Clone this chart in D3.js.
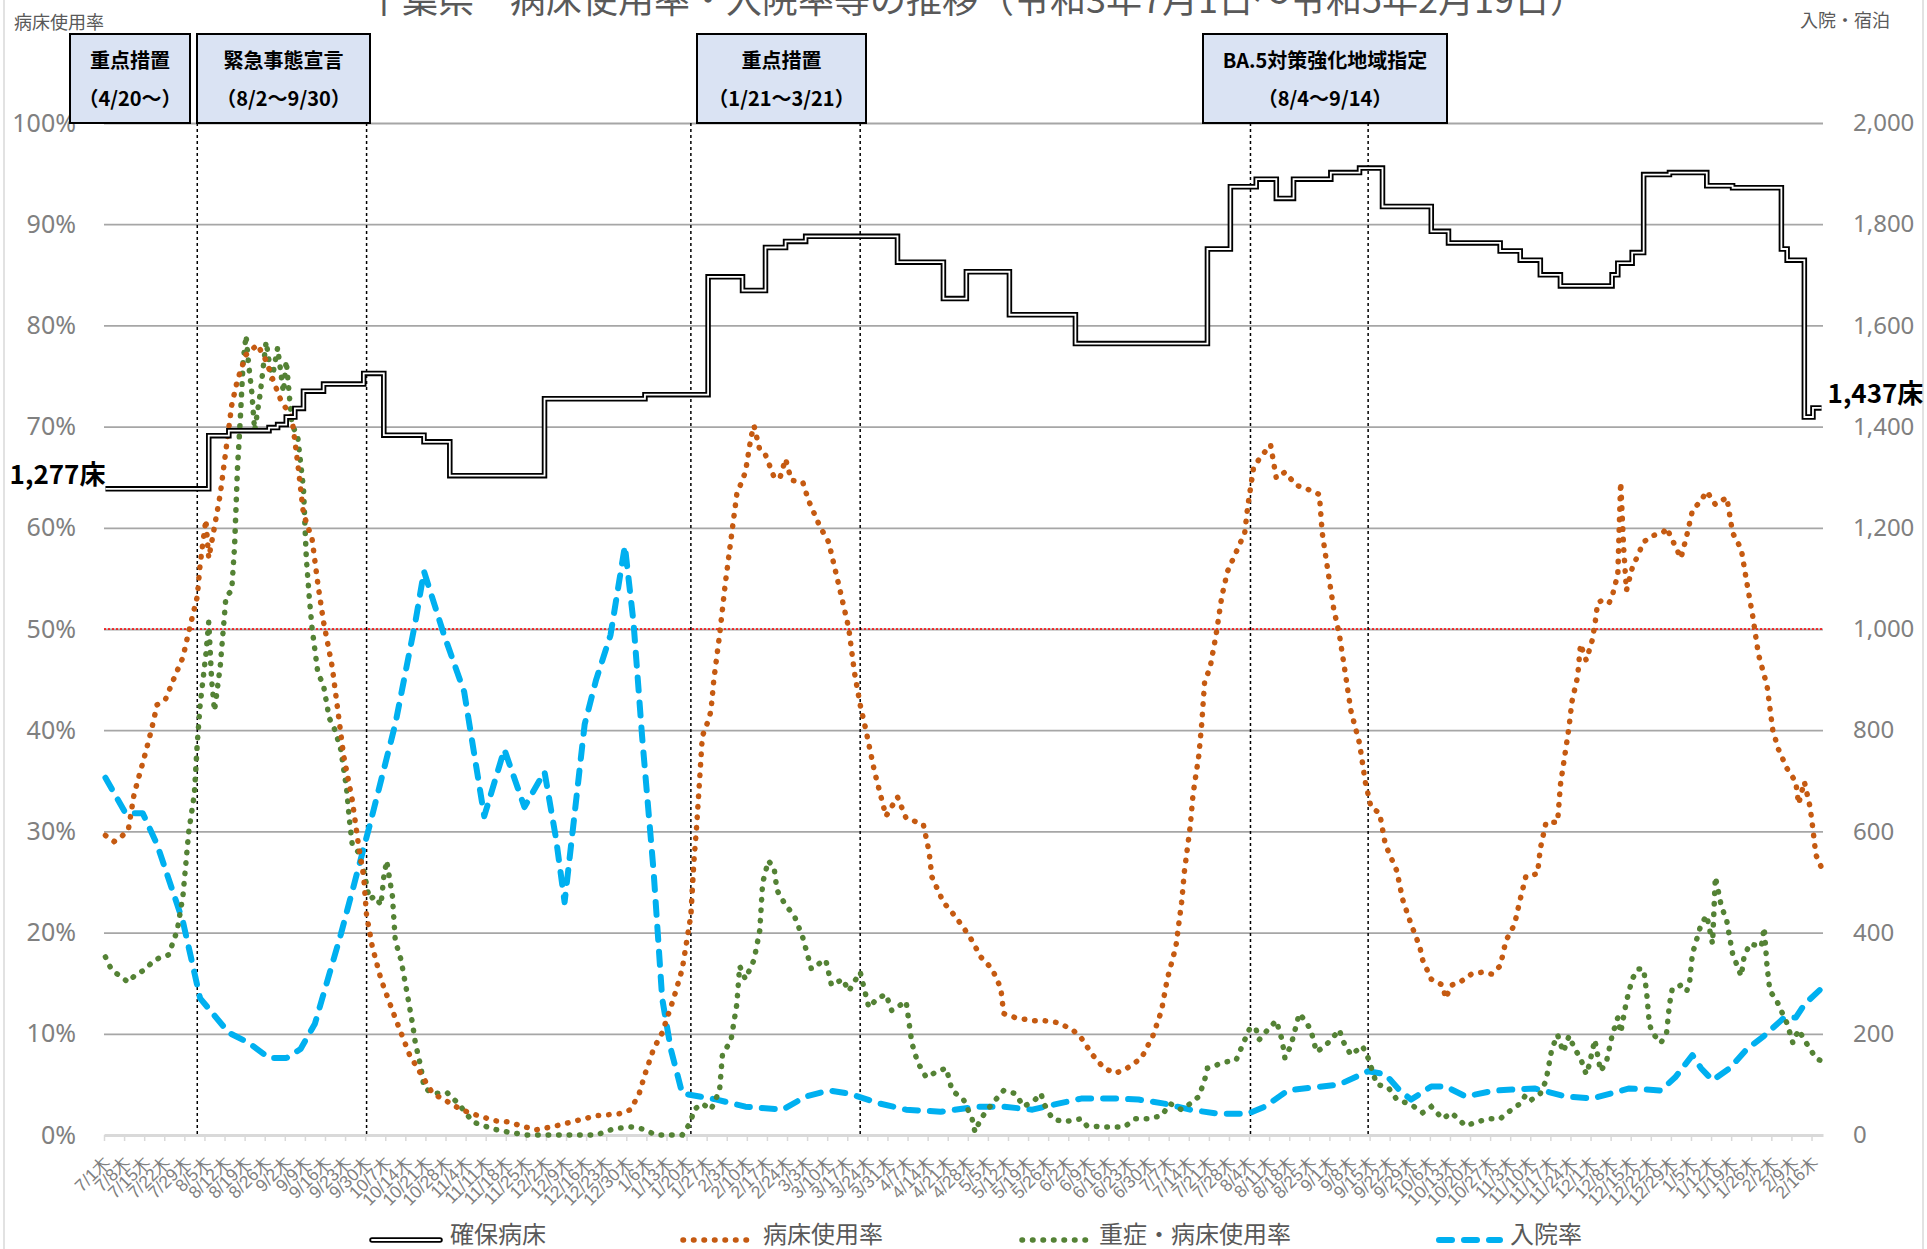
<!DOCTYPE html>
<html>
<head>
<meta charset="utf-8">
<script src="https://cdnjs.cloudflare.com/ajax/libs/d3/7.8.5/d3.min.js"></script>
<style>
body{margin:0;background:#fff;}
svg{display:block;font-family:"Noto Sans CJK JP","Noto Sans",sans-serif;}
</style>
</head>
<body>
<svg id="chart" width="1927" height="1249"></svg>
<script>
// weekly tick labels (Thursdays), 7/1/2021 .. 2/16/2023
var tickLabels = ["7/1","7/8","7/15","7/22","7/29","8/5","8/12","8/19","8/26","9/2","9/9","9/16","9/23","9/30",
  "10/7","10/14","10/21","10/28","11/4","11/11","11/18","11/25","12/2","12/9","12/16","12/23","12/30",
  "1/6","1/13","1/20","1/27","2/3","2/10","2/17","2/24","3/3","3/10","3/17","3/24","3/31","4/7","4/14","4/21","4/28",
  "5/5","5/12","5/19","5/26","6/2","6/9","6/16","6/23","6/30","7/7","7/14","7/21","7/28","8/4","8/11","8/18","8/25",
  "9/1","9/8","9/15","9/22","9/29","10/6","10/13","10/20","10/27","11/3","11/10","11/17","11/24","12/1","12/8","12/15","12/22","12/29",
  "1/5","1/12","1/19","1/26","2/2","2/9","2/16"];
var dayCount = 599;

var seriesNames = ["確保病床","病床使用率","重症・病床使用率","入院率"];

// [day index, beds]  (change points)
var beds = [[0,1277],[36,1382],[43,1392],[57,1398],[60,1404],[63,1419],[66,1436],[69,1470],[76,1484],[90,1505],[97,1383],
  [111,1370],[120,1303],[153,1455],[188,1463],[210,1696],[222,1669],[230,1754],[237,1766],[244,1776],[276,1725],[292,1653],
  [300,1706],[315,1621],[338,1564],[384,1751],[392,1874],[401,1889],[408,1851],[414,1889],[427,1902],[437,1911],[445,1835],
  [462,1786],[468,1763],[486,1747],[493,1729],[500,1700],[507,1678],[525,1700],[527,1723],[532,1744],[536,1898],[545,1902],
  [558,1876],[567,1872],[584,1751],[586,1729],[592,1419],[595,1437],[598,1437]];

// [day index, %]
var occupancy = [[0,29.6],[3,29.0],[5,29.3],[8,30.2],[10,33.7],[14,37.8],[16,40.0],[18,42.5],[21,43.1],[24,45.2],[27,47.2],[29,49.7],
  [32,53.2],[33,56.4],[35,60.8],[36,57],[38,60.1],[40,63.3],[42,67.7],[44,72.1],[46,74.6],[49,77.1],[53,78.1],[56,76.5],[58,74.9],
  [61,72.7],[65,70.8],[67,66.4],[69,61.4],[72,58.9],[74,54.5],[76,50.7],[79,46.3],[81,41.9],[83,37.5],[86,33.1],[88,29.0],[90,25.5],
  [91,21.7],[93,18.6],[96,15.4],[100,12.3],[103,10.1],[106,7.9],[110,6.0],[114,4.1],[118,3.5],[124,2.5],[130,1.9],[136,1.4],[140,1.3],
  [145,0.9],[150,0.5],[157,0.9],[164,1.4],[171,1.9],[179,2.1],[183,2.5],[186,4.1],[188,6.0],[191,8.5],[194,10.1],[198,13.5],[201,16.4],
  [204,21.7],[205,26.8],[206,30.5],[207,34.9],[208,39.4],[210,40.9],[211,41.9],[212,45],[214,49.4],[216,54.5],[218,58.9],[220,63.3],
  [223,65.5],[225,69],[226,70.1],[228,67.7],[230,67.2],[233,65],[235,64.9],[237,66.8],[239,64.7],[243,64.5],[245,62.7],[249,60.1],
  [252,58.6],[256,53.8],[259,50.1],[261,45.7],[263,42.5],[265,40],[268,35.9],[270,33.7],[272,31.5],[276,33.4],[279,31.3],[285,30.7],
  [287,28.0],[288,25.5],[292,23],[295,22],[299,20.5],[302,19.2],[305,17.6],[309,16.4],[312,14.5],[313,12],[317,11.6],[323,11.3],
  [327,11.3],[332,11.1],[337,10.4],[340,9.6],[344,7.9],[348,6.6],[352,6.1],[356,6.6],[361,7.6],[365,9.8],[368,12.3],[370,15.4],
  [373,18.6],[375,23],[376,26.1],[378,30.5],[379,33.7],[381,37.5],[382,40.6],[383,44.7],[385,46.3],[387,49.4],[389,53.2],[391,55.7],
  [394,57.6],[397,59.5],[398,62],[400,65.8],[402,66.8],[406,68.2],[408,64.9],[411,65.5],[415,64.2],[419,63.8],[423,63.3],[424,59.5],
  [426,55.7],[428,52],[430,49.4],[432,45.7],[434,41.9],[437,38.7],[439,34.9],[441,32.4],[444,31.8],[446,28.7],[450,26.1],[452,23.3],
  [455,20.8],[458,18.6],[459,17.3],[462,15.4],[466,14.8],[467,13.5],[469,14.8],[472,15.1],[476,15.9],[480,16.1],[483,15.9],[486,16.7],
  [487,17.9],[488,19.2],[491,20.8],[493,23.3],[495,25.6],[499,25.8],[500,28.3],[501,29.6],[502,30.9],[506,30.9],[507,34.6],[508,36.5],
  [510,40.3],[511,42.8],[513,45.3],[514,48.5],[516,46.9],[518,48.8],[519,50.4],[520,52.6],[522,52.9],[524,52.6],[525,53.2],[527,55.4],
  [528,64.5],[529,58.2],[530,53.8],[532,56],[536,58.6],[539,59.2],[543,59.6],[544,60],[546,58.8],[549,57],[551,59.2],[553,61.7],
  [556,62.7],[558,63.6],[561,62.3],[565,63],[567,59.5],[570,57.9],[572,54.5],[574,51.3],[576,47.5],[579,44.4],[581,40],[583,38.1],
  [586,36.2],[589,34.9],[590,32.7],[592,34.9],[594,32.4],[595,30.2],[596,27.7],[598,26.4]];

var severe = [[0,17.6],[2,16.4],[5,15.7],[8,15.1],[10,15.7],[14,16.4],[17,17.3],[22,17.8],[25,20.2],[27,23.6],[29,29.9],[31,33.7],
  [32,38.7],[33,42.5],[35,47.5],[36,50.7],[37,45],[38,41.9],[40,46.3],[42,53.2],[44,53.8],[45,58.2],[46,65.8],[47,70.8],[48,76.5],
  [49,79],[50,75.9],[51,73.4],[52,69.6],[54,73.4],[56,78.4],[58,74.6],[60,77.8],[62,73.4],[63,76.5],[65,70.2],[67,69],[69,63.9],
  [70,57],[71,53.2],[72,50.1],[74,45.7],[76,44.4],[78,41.2],[80,40],[82,38.1],[84,34.3],[85,31.2],[86,28.7],[88,28],[90,26.1],
  [92,23.3],[94,23.6],[96,22.7],[97,25.5],[98,27.1],[100,23.6],[101,19.2],[103,17.3],[105,14.2],[107,11],[108,9.1],[110,6.6],
  [111,4.7],[114,4.1],[119,4.2],[123,3.1],[128,1.3],[135,0.6],[140,0.3],[147,0],[171,0],[177,0.6],[183,0.8],[187,0.6],[192,0],
  [201,0],[204,1.3],[205,2.5],[208,3.1],[211,2.5],[214,4.4],[215,7.9],[218,9.4],[220,12.9],[221,16.7],[223,15.4],[226,17.3],
  [228,20.2],[229,24.9],[231,27.1],[233,26.4],[234,24.2],[237,22.7],[240,21.7],[243,19.5],[246,16.4],[249,17],[251,17.3],[253,14.8],
  [257,15.4],[259,14.2],[263,16.1],[266,12.6],[269,13.5],[272,13.9],[274,12.3],[279,13.2],[281,9.1],[283,7.2],[286,5.7],[290,6.3],
  [293,6.6],[295,4.4],[299,3.5],[302,1.6],[303,0.3],[305,1.6],[309,3.1],[313,4.4],[317,4.1],[320,2.8],[324,3.5],[326,4.1],[327,3.1],
  [330,1.6],[334,1.3],[340,1.6],[342,0.9],[348,0.8],[355,0.8],[359,1.6],[363,1.6],[368,1.9],[371,3.1],[375,2.5],[378,3.1],[381,3.8],
  [383,5.4],[384,6.6],[390,7.2],[394,7.4],[397,9.4],[399,10.7],[401,10.4],[402,9.4],[405,10.4],[408,11.3],[410,9.4],[411,7.6],
  [413,8.8],[414,9.8],[416,12],[418,11.3],[420,10.4],[422,8.2],[425,8.8],[427,9.4],[430,10.4],[431,9.4],[434,7.9],[438,8.8],
  [440,7.6],[443,5],[447,4.7],[450,3.5],[455,3.0],[459,2.2],[462,2.8],[466,1.6],[469,2.2],[474,0.9],[478,1.3],[482,1.6],[486,1.6],
  [489,2.3],[493,3.1],[495,4],[497,3.5],[500,4.1],[502,5.4],[504,8.5],[506,9.9],[508,8.2],[510,9.8],[512,8.5],[514,7.6],[516,6],
  [517,6.9],[519,9.4],[521,6.3],[523,7.2],[525,9.8],[527,11.6],[528,10.1],[530,13.2],[532,15.4],[534,16.4],[536,16.4],[537,14.2],
  [538,11],[539,10.1],[542,9.1],[544,10.1],[545,12.9],[546,14.5],[549,14.8],[551,14.2],[552,15.1],[553,17.9],[556,20.8],[558,21.7],
  [560,18.9],[561,25.5],[563,22.7],[565,21.1],[567,17.9],[570,15.7],[571,17.6],[573,18.9],[577,18.6],[578,20.5],[579,16.7],[580,14.2],
  [582,13.5],[586,11],[588,9.1],[590,10.4],[592,9.4],[594,8.5],[596,7.6],[598,7.3]];

var hospital = [[0,35.3],[7,31.8],[13,31.8],[18,28.7],[27,21.1],[33,13.5],[43,10.1],[50,9.1],[57,7.6],[63,7.6],[68,8.5],[73,11],
  [82,19.8],[92,30.5],[101,40.6],[108,50.7],[111,55.7],[118,49.4],[125,43.8],[132,31.5],[139,38.1],[146,32.4],[153,35.9],[157,29.3],
  [160,23],[163,30.5],[167,40.6],[171,45],[176,49.4],[181,58.2],[184,50.7],[187,39.4],[191,26.1],[194,13.5],[197,8.5],[201,4.1],
  [213,3.5],[223,2.8],[236,2.5],[244,3.8],[252,4.4],[259,4.1],[270,3.1],[279,2.5],[291,2.3],[304,2.8],[313,2.8],[323,2.5],[332,3.1],
  [340,3.6],[353,3.6],[360,3.5],[369,3.1],[378,2.5],[388,2.1],[398,2.1],[404,2.8],[412,4.4],[421,4.7],[430,5],[440,6.3],[446,6],
  [451,4.4],[455,3.5],[462,4.8],[467,4.8],[474,3.8],[484,4.4],[498,4.6],[509,3.8],[518,3.6],[531,4.6],[542,4.4],[547,5.7],[553,7.9],
  [556,6.6],[560,5.4],[566,6.6],[572,8.5],[578,9.8],[585,11.6],[589,11.6],[592,12.9],[598,14.5]];

// measures: 8/2, 9/30, 1/21, 3/21, 8/4, 9/14
var eventDays = [32, 91, 204, 263, 399, 440];
var notes = [["重点措置","（4/20～）"],["緊急事態宣言","（8/2～9/30）"],["重点措置","（1/21～3/21）"],["BA.5対策強化地域指定","（8/4～9/14）"]];
var noteBoxes = [[70,190],[197,370],[697,866],[1203,1447]];

var leftTicks = [0,10,20,30,40,50,60,70,80,90,100];
var rightTicks = [0,200,400,600,800,1000,1200,1400,1600,1800,2000];

var svg = d3.select("#chart");
var pL = 104, pR = 1823, pT = 123, pB = 1135;

var x = d3.scaleLinear().domain([-0.5, dayCount - 0.5]).range([pL, pR]);
var yL = d3.scaleLinear().domain([0, 100]).range([pB, pT]);
var yR = d3.scaleLinear().domain([0, 2000]).range([pB, pT]);

var dotted = "0.5,10";

// chart border (sides)
svg.append("line").attr("x1",4).attr("x2",4).attr("y1",0).attr("y2",1249).attr("stroke","#d9d9d9").attr("stroke-width",1.5);
svg.append("line").attr("x1",1923).attr("x2",1923).attr("y1",0).attr("y2",1249).attr("stroke","#d9d9d9").attr("stroke-width",1.5);

// title
svg.append("text").attr("x",976).attr("y",13).attr("text-anchor","middle")
  .style("font-size","36px").style("fill","#595959")
  .text("千葉県　病床使用率・入院率等の推移（令和3年7月1日～令和5年2月19日）");

svg.append("text").attr("x",14).attr("y",29).style("font-size","18px").style("fill","#595959").text("病床使用率");
svg.append("text").attr("x",1800).attr("y",27).style("font-size","18px").style("fill","#595959").text("入院・宿泊");

// gridlines
var grid = svg.append("g").attr("transform","translate("+pL+",0)")
  .call(d3.axisLeft(yL).tickValues(leftTicks.slice(1)).tickSize(-(pR-pL)).tickFormat(""));
grid.select(".domain").remove();
grid.selectAll(".tick line").attr("stroke","#a6a6a6").attr("stroke-width",1.8);

// left labels
var ax = svg.append("g").attr("transform","translate("+pL+",0)")
  .call(d3.axisLeft(yL).tickValues(leftTicks).tickSize(0).tickPadding(28).tickFormat(function(d){return d+"%";}));
ax.select(".domain").remove();
ax.selectAll("text").style("font-size","25px").style("fill","#808080").style("font-family","'Noto Sans','Noto Sans CJK JP',sans-serif");

// right labels
var ar = svg.append("g").attr("transform","translate("+pR+",0)")
  .call(d3.axisRight(yR).tickValues(rightTicks).tickSize(0).tickPadding(30).tickFormat(d3.format(",")));
ar.select(".domain").remove();
ar.selectAll("text").style("font-size","24px").style("fill","#808080").style("font-family","'Noto Sans','Noto Sans CJK JP',sans-serif");

// x axis line + ticks at week boundaries
var tickPos = tickLabels.map(function(d,i){return i*7-0.5;});
var axb = svg.append("g").attr("transform","translate(0,"+pB+")")
  .call(d3.axisBottom(x).tickValues(tickPos).tickSize(6).tickFormat("").tickSizeOuter(0));
axb.select(".domain").attr("stroke","#d9d9d9").attr("stroke-width",3);
axb.selectAll(".tick line").attr("stroke","#d9d9d9").attr("stroke-width",1.5);

// x labels
var axl = svg.append("g").attr("transform","translate(0,"+pB+")")
  .call(d3.axisBottom(x).tickValues(tickLabels.map(function(d,i){return i*7;})).tickSize(0)
    .tickFormat(function(d){return tickLabels[d/7]+"木";}));
axl.select(".domain").remove();
axl.selectAll("text").attr("text-anchor","end").attr("dy",null).attr("y",0)
  .attr("transform","translate(6,28) rotate(-45)")
  .style("font-size","17.5px").style("fill","#7f7f7f");

// red 50% line
svg.append("line").attr("x1",pL).attr("x2",pR).attr("y1",yL(50)).attr("y2",yL(50))
  .attr("stroke","#ff0000").attr("stroke-width",1.5).attr("stroke-dasharray","2,2");

// event lines
svg.selectAll(".evt").data(eventDays).enter().append("line").attr("class","evt")
  .attr("x1",function(d){return x(d);}).attr("x2",function(d){return x(d);})
  .attr("y1",pT).attr("y2",pB).attr("stroke","#000").attr("stroke-width",1.5).attr("stroke-dasharray","3,3");

var lineL = d3.line().x(function(d){return x(d[0]);}).y(function(d){return yL(d[1]);});
var lineR = d3.line().x(function(d){return x(d[0]);}).y(function(d){return yR(d[1]);}).curve(d3.curveStepAfter);

// 入院率
svg.append("path").datum(hospital).attr("d",lineL).attr("fill","none").attr("stroke","#00b0f0")
  .attr("stroke-width",6).attr("stroke-dasharray","13,12").attr("stroke-linecap","round").attr("stroke-linejoin","round");
// 重症
svg.append("path").datum(severe).attr("d",lineL).attr("fill","none").attr("stroke","#548235")
  .attr("stroke-width",5.5).attr("stroke-dasharray",dotted).attr("stroke-linecap","round");
// 病床使用率
svg.append("path").datum(occupancy).attr("d",lineL).attr("fill","none").attr("stroke","#c55a11")
  .attr("stroke-width",5.5).attr("stroke-dasharray",dotted).attr("stroke-linecap","round");
// 確保病床 (double line)
svg.append("path").datum(beds).attr("d",lineR).attr("fill","none").attr("stroke","#000").attr("stroke-width",5.5);
svg.append("path").datum(beds).attr("d",lineR).attr("fill","none").attr("stroke","#fff").attr("stroke-width",1.8);

// end labels
svg.append("text").attr("x",x(0)).attr("y",yR(beds[0][1])-5).attr("text-anchor","end")
  .style("font-size","26px").style("font-weight","bold").style("fill","#000")
  .text(d3.format(",")(beds[0][1])+"床");
svg.append("text").attr("x",x(dayCount-1)+6).attr("y",yR(beds[beds.length-1][1])-5)
  .style("font-size","26px").style("font-weight","bold").style("fill","#000")
  .text(d3.format(",")(beds[beds.length-1][1])+"床");

// note boxes
var nb = svg.selectAll(".note").data(notes).enter().append("g").attr("class","note");
nb.append("rect").attr("x",function(d,i){return noteBoxes[i][0];}).attr("y",34)
  .attr("width",function(d,i){return noteBoxes[i][1]-noteBoxes[i][0];}).attr("height",89)
  .attr("fill","#dae3f3").attr("stroke","#000").attr("stroke-width",2);
nb.append("text").attr("x",function(d,i){return (noteBoxes[i][0]+noteBoxes[i][1])/2;}).attr("y",68)
  .attr("text-anchor","middle").style("font-size","20px").style("font-weight","bold").style("fill","#000")
  .text(function(d){return d[0];});
nb.append("text").attr("x",function(d,i){return (noteBoxes[i][0]+noteBoxes[i][1])/2;}).attr("y",106)
  .attr("text-anchor","middle").style("font-size","20px").style("font-weight","bold").style("fill","#000")
  .text(function(d){return d[1];});

// legend
var legX = [372, 683, 1022, 1436];
var lg = svg.append("g");
var ly = 1240;
lg.append("line").attr("x1",legX[0]).attr("x2",legX[0]+68).attr("y1",ly).attr("y2",ly).attr("stroke","#000").attr("stroke-width",5.5).attr("stroke-linecap","round");
lg.append("line").attr("x1",legX[0]).attr("x2",legX[0]+68).attr("y1",ly).attr("y2",ly).attr("stroke","#fff").attr("stroke-width",1.8).attr("stroke-linecap","round");
lg.append("line").attr("x1",legX[1]).attr("x2",legX[1]+72).attr("y1",ly).attr("y2",ly).attr("stroke","#c55a11").attr("stroke-width",5.5).attr("stroke-dasharray",dotted).attr("stroke-linecap","round");
lg.append("line").attr("x1",legX[2]).attr("x2",legX[2]+70).attr("y1",ly).attr("y2",ly).attr("stroke","#548235").attr("stroke-width",5.5).attr("stroke-dasharray",dotted).attr("stroke-linecap","round");
lg.append("line").attr("x1",legX[3]+3).attr("x2",legX[3]+64).attr("y1",ly).attr("y2",ly).attr("stroke","#00b0f0").attr("stroke-width",6).attr("stroke-dasharray","13,12").attr("stroke-linecap","round");
lg.selectAll("text").data(seriesNames).enter().append("text")
  .attr("x",function(d,i){return legX[i]+[78,80,77,74][i];}).attr("y",1243)
  .style("font-size","24px").style("fill","#595959").text(function(d){return d;});
</script>
</body>
</html>
